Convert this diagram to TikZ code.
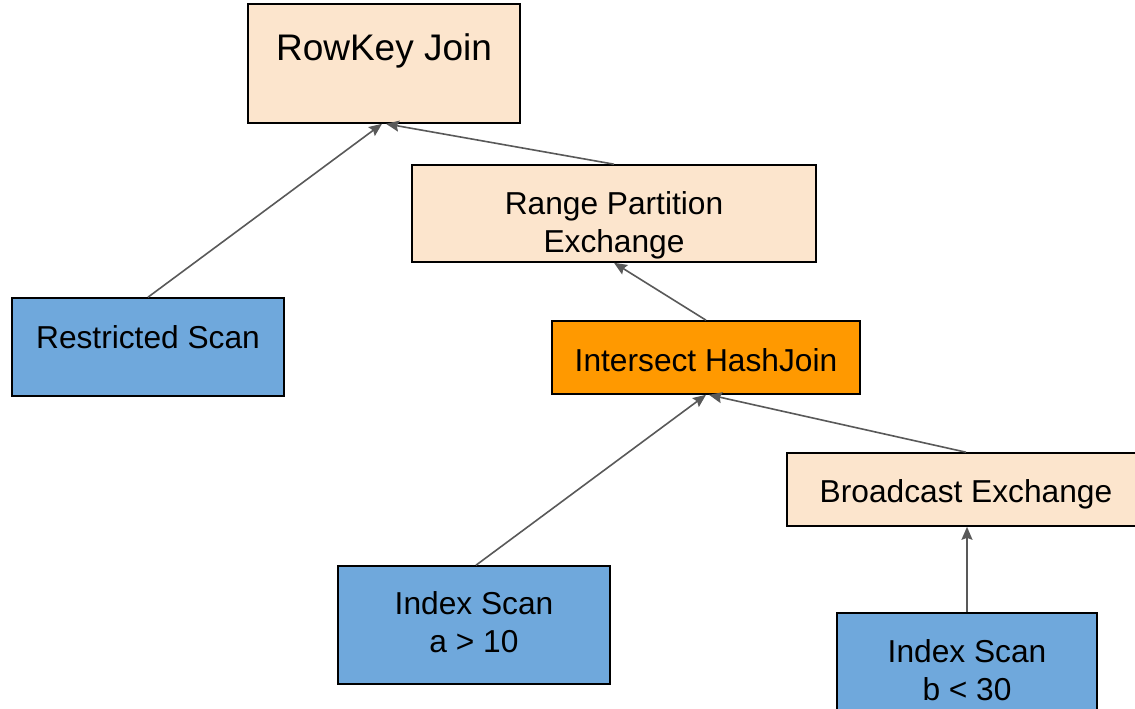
\documentclass[tikz,border=0pt]{standalone}
\usepackage{fontspec}
\setmainfont{Liberation Sans}
\usetikzlibrary{arrows.meta}
\definecolor{peach}{HTML}{FCE5CD}
\definecolor{skyblue}{HTML}{6FA8DC}
\definecolor{amber}{HTML}{FF9900}
\definecolor{edgegray}{HTML}{595959}
\tikzset{
  opbox/.style={draw=black, line width=1.6pt, inner sep=0pt, rectangle},
  optext/.style={inner sep=0pt, align=center,
    font=\fontsize{31.7}{38}\selectfont},
  flow/.style={draw=edgegray, line width=1.6pt,
    -{Stealth[length=13pt, width=11pt, inset=2pt]}}
}
\begin{document}
\begin{tikzpicture}[x=1pt, y=-1pt]
  \fill[white] (0,0) rectangle (1135,709);
  \useasboundingbox (0,0) rectangle (1135,709);

  % operator boxes
  \node[opbox, fill=peach,   minimum width=272, minimum height=119] (rowkey)     at (384,63.5)  {};
  \node[opbox, fill=peach,   minimum width=404, minimum height=97]  (range)      at (614,213.5) {};
  \node[opbox, fill=skyblue, minimum width=272, minimum height=98]  (restricted) at (148,347)   {};
  \node[opbox, fill=amber,   minimum width=308, minimum height=73]  (intersect)  at (706,357.5) {};
  \node[opbox, fill=peach,   minimum width=360, minimum height=73]  (broadcast)  at (967,489.5) {};
  \node[opbox, fill=skyblue, minimum width=260, minimum height=115] (indexb)     at (967,670.5) {};
  \node[opbox, fill=skyblue, minimum width=272, minimum height=118] (indexa)     at (474,625)   {};

  % operator labels
  \node[optext, anchor=base, font=\fontsize{37}{44}\selectfont] (rowkeyT) at (384,60) {RowKey Join};
  \node[optext, anchor=center] (rangeT)      at (614,225) {Range Partition\\Exchange};
  \node[optext, anchor=base]   (restrictedT) at (148,348) {Restricted Scan};
  \node[optext, anchor=base]   (intersectT)  at (706,371) {Intersect HashJoin};
  \node[optext, anchor=base]   (broadcastT)  at (966,502) {Broadcast Exchange};
  \node[optext, anchor=center] (indexaT)     at (474,622.5) {Index Scan\\a > 10};
  \node[optext, anchor=center] (indexbT)     at (967,670) {Index Scan\\b < 30};

  % data flow
  \draw[flow] (restricted.north) -- ([xshift=-2pt]rowkey.south);
  \draw[flow] (range.north) -- ([xshift=2pt]rowkey.south);
  \draw[flow] (intersect.north) -- (range.south);
  \draw[flow] ([xshift=2pt]indexa.north) -- (intersect.south);
  \draw[flow] ([xshift=-1pt]broadcast.north) -- ([xshift=3pt]intersect.south);
  \draw[flow] (indexb.north) -- (broadcast.south);
\end{tikzpicture}
\end{document}
